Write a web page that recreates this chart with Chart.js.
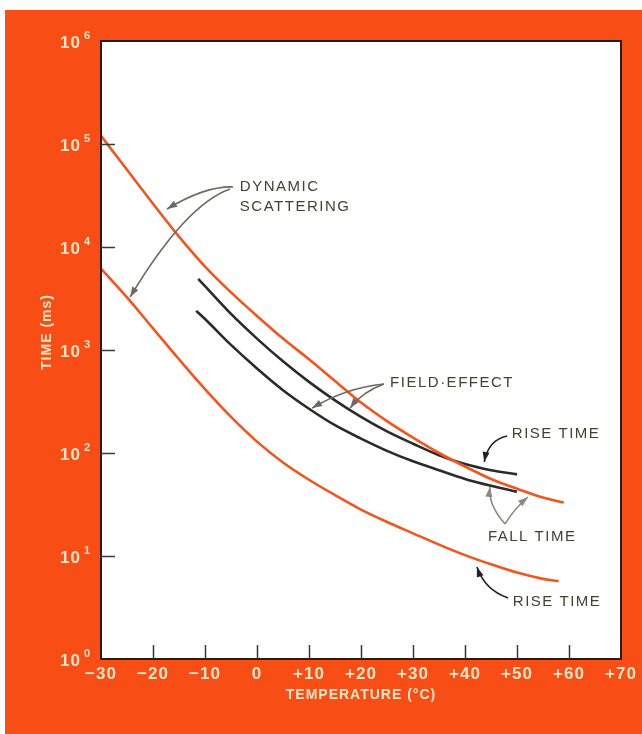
<!DOCTYPE html>
<html>
<head>
<meta charset="utf-8">
<script src="https://cdn.jsdelivr.net/npm/chart.js@4.4.1/dist/chart.umd.min.js"></script>
<style>
  html, body { margin: 0; padding: 0; background: #fff; }
  #wrap { width: 642px; height: 734px; }
</style>
</head>
<body>
<div id="wrap"><canvas id="chart" width="642" height="734"></canvas></div>
<script>
// dynamic scattering, fall time (upper orange curve)
const dsFallTemps = [-30, -25, -20, -15, -10, -5, 0, 5, 10, 15, 20, 25, 30, 35, 40, 45, 50, 55, 59];
const dsFall = [120000, 56200, 26300, 12600, 6460, 3630, 2140, 1290, 813, 501, 309, 204, 141, 100, 74, 56, 45, 37, 33];
// dynamic scattering, rise time (lower orange curve)
const dsRiseTemps = [-30, -25, -20, -15, -10, -5, 0, 5, 10, 15, 20, 25, 30, 35, 40, 45, 50, 55, 58];
const dsRise = [6170, 3240, 1620, 813, 417, 224, 129, 81, 55, 39, 28.2, 21.4, 16.6, 12.9, 10.2, 8.3, 6.9, 6.0, 5.7];
// field-effect, rise time (upper black curve)
const feRiseTemps = [-11.3, -10, -5, 0, 5, 10, 15, 20, 25, 30, 35, 40, 45, 50];
const feRise = [4900, 4170, 2240, 1290, 776, 490, 324, 224, 162, 123, 95, 78, 68, 62];
// field-effect, fall time (lower black curve)
const feFallTemps = [-11.7, -10, -5, 0, 5, 10, 15, 20, 25, 30, 35, 40, 45, 50];
const feFall = [2400, 2000, 1120, 661, 407, 269, 186, 138, 105, 83, 68, 56, 48, 42];

// axes
const xTicks = [-30, -20, -10, 0, 10, 20, 30, 40, 50, 60, 70];
const xTickLabels = ['\u221230', '\u221220', '\u221210', '0', '+10', '+20', '+30', '+40', '+50', '+60', '+70'];
const yTickExps = [0, 1, 2, 3, 4, 5, 6];

// call-outs, anchored in data space [temperature, time]
const notes = [
  { lines: ['DYNAMIC', 'SCATTERING'], at: [-3.3, 38300], step: 20 },
  { lines: ['FIELD\u00b7EFFECT'], at: [25.6, 478] },
  { lines: ['RISE TIME'], at: [49.0, 153] },
  { lines: ['FALL TIME'], at: [44.4, 15.3] },
  { lines: ['RISE TIME'], at: [49.2, 3.58] }
];
const arrows = [
  { from: [-4.6, 38300], ctrl: [-10, 39000], to: [-17.3, 23400], color: '#6a6a60' },
  { from: [-5.2, 36600], ctrl: [-13.8, 25600], to: [-24.4, 3270], color: '#6a6a60' },
  { from: [24.4, 468], ctrl: [17.0, 428], to: [10.6, 273], color: '#6a6a60' },
  { from: [24.4, 468], ctrl: [20.2, 391], to: [17.9, 273], color: '#6a6a60' },
  { from: [48.1, 146], ctrl: [44.5, 134], to: [43.7, 81.8], color: '#222' },
  { from: [47.7, 20.5], ctrl: [44.4, 31.3], to: [44.8, 46.8], color: '#8a8a82' },
  { from: [47.7, 20.5], ctrl: [49.6, 29.2], to: [52.1, 37.4], color: '#8a8a82' },
  { from: [48.3, 3.91], ctrl: [43.8, 4.68], to: [42.3, 7.82], color: '#222' }
];

const pts = (xs, ys) => xs.map((x, i) => ({ x: x, y: ys[i] }));

const orangeBg = '#f94d16';
const cream = '#fde6c6';
const labelFont = '"Liberation Sans Narrow", "Liberation Sans", sans-serif';

const frame = {
  id: 'frame',
  beforeDraw(chart) {
    const c = chart.ctx, a = chart.chartArea;
    c.save();
    c.fillStyle = '#fff';
    c.fillRect(0, 0, chart.width, chart.height);
    c.fillStyle = orangeBg;
    c.fillRect(5, 10, chart.width - 5, chart.height - 10);
    c.fillStyle = '#fff';
    c.fillRect(a.left, a.top, a.right - a.left, a.bottom - a.top);
    c.restore();
  },
  afterDraw(chart) {
    const c = chart.ctx, a = chart.chartArea;
    const sx = chart.scales.x, sy = chart.scales.y;
    const P = (d) => [sx.getPixelForValue(d[0]), sy.getPixelForValue(d[1])];
    c.save();
    // plot border
    c.strokeStyle = '#2a1a12';
    c.lineWidth = 2;
    c.strokeRect(a.left, a.top, a.right - a.left, a.bottom - a.top);
    // inward ticks
    c.strokeStyle = '#3a3a3a';
    c.lineWidth = 1.5;
    xTicks.slice(1, -1).forEach(t => {
      const x = Math.round(sx.getPixelForValue(t)) + 0.5;
      c.beginPath(); c.moveTo(x, a.bottom); c.lineTo(x, a.bottom - 14); c.stroke();
    });
    yTickExps.slice(1, -1).forEach(e => {
      const y = Math.round(sy.getPixelForValue(Math.pow(10, e))) + 0.5;
      c.beginPath(); c.moveTo(a.left, y); c.lineTo(a.left + 14, y); c.stroke();
    });
    // tick labels
    c.fillStyle = cream;
    c.font = 'bold 17px ' + labelFont;
    c.letterSpacing = '1px';
    c.textAlign = 'center';
    c.textBaseline = 'middle';
    xTicks.forEach((t, i) => {
      c.fillText(xTickLabels[i], sx.getPixelForValue(t), a.bottom + 15);
    });
    yTickExps.forEach(e => {
      const y = sy.getPixelForValue(Math.pow(10, e));
      c.font = 'bold 17px ' + labelFont;
      c.textAlign = 'right';
      c.fillText('10', a.left - 20, y + 2);
      c.font = 'bold 11px ' + labelFont;
      c.textAlign = 'left';
      c.fillText(String(e), a.left - 17, y - 5);
    });
    // axis titles
    c.font = 'bold 14px ' + labelFont;
    c.textAlign = 'center';
    c.fillText('TEMPERATURE (\u00b0C)', (a.left + a.right) / 2, a.bottom + 36);
    c.save();
    c.translate(47, (a.top + a.bottom) / 2 - 18);
    c.rotate(-Math.PI / 2);
    c.fillText('TIME (ms)', 0, 0);
    c.restore();
    // call-out arrows
    arrows.forEach(ar => {
      const f = P(ar.from), k = P(ar.ctrl), t = P(ar.to);
      c.strokeStyle = ar.color;
      c.fillStyle = ar.color;
      c.lineWidth = 1.6;
      c.beginPath(); c.moveTo(f[0], f[1]); c.quadraticCurveTo(k[0], k[1], t[0], t[1]); c.stroke();
      const ang = Math.atan2(t[1] - k[1], t[0] - k[0]);
      c.beginPath();
      c.moveTo(t[0], t[1]);
      c.lineTo(t[0] - 10 * Math.cos(ang) + 3.5 * Math.sin(ang), t[1] - 10 * Math.sin(ang) - 3.5 * Math.cos(ang));
      c.lineTo(t[0] - 10 * Math.cos(ang) - 3.5 * Math.sin(ang), t[1] - 10 * Math.sin(ang) + 3.5 * Math.cos(ang));
      c.closePath(); c.fill();
    });
    // call-out text
    c.fillStyle = '#40432f';
    c.font = '15px "Liberation Sans", sans-serif';
    c.letterSpacing = '1.5px';
    c.textAlign = 'left';
    c.textBaseline = 'middle';
    notes.forEach(n => {
      const p = P(n.at);
      n.lines.forEach((s, i) => c.fillText(s, p[0], p[1] + i * (n.step || 0)));
    });
    c.restore();
  }
};

new Chart(document.getElementById('chart'), {
  type: 'line',
  data: {
    datasets: [
      { label: 'Dynamic scattering fall time', data: pts(dsFallTemps, dsFall), borderColor: '#f0561e' },
      { label: 'Dynamic scattering rise time', data: pts(dsRiseTemps, dsRise), borderColor: '#f0561e' },
      { label: 'Field-effect rise time', data: pts(feRiseTemps, feRise), borderColor: '#2b2b2b' },
      { label: 'Field-effect fall time', data: pts(feFallTemps, feFall), borderColor: '#2b2b2b' }
    ]
  },
  options: {
    responsive: false,
    animation: false,
    events: [],
    layout: { padding: { left: 101, top: 41, right: 21, bottom: 75 } },
    elements: {
      line: { borderWidth: 2.6, cubicInterpolationMode: 'monotone', fill: false },
      point: { radius: 0 }
    },
    plugins: { legend: { display: false }, tooltip: { enabled: false } },
    scales: {
      x: { type: 'linear', min: -30, max: 70, display: false },
      y: { type: 'logarithmic', min: 1, max: 1e6, display: false }
    }
  },
  plugins: [frame]
});
</script>
</body>
</html>
